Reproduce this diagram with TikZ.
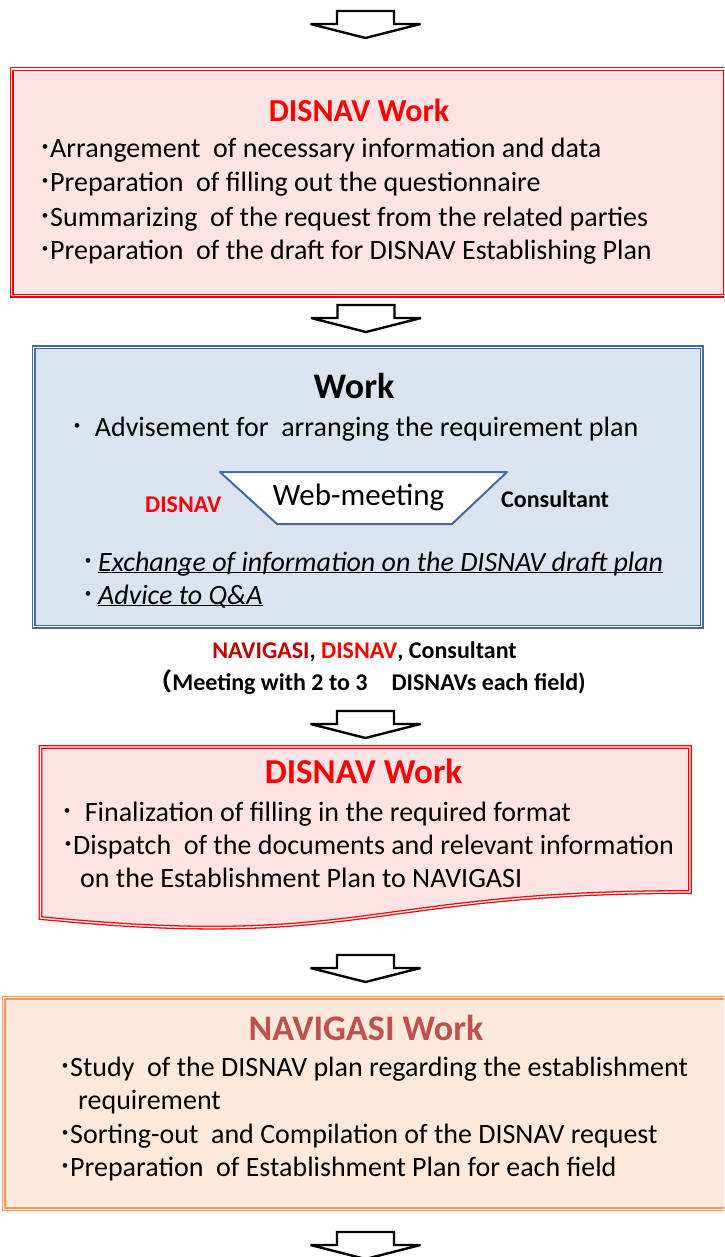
\documentclass[tikz,border=0pt]{standalone}
\usepackage{fontspec}
\setmainfont{Carlito}
\newfontfamily\jpfont{Noto Sans CJK JP}
\usetikzlibrary{positioning}

\definecolor{pinkfill}{RGB}{252,228,228}
\definecolor{bluefill}{RGB}{219,227,241}
\definecolor{blueline}{RGB}{65,108,155}
\definecolor{orangefill}{RGB}{253,233,219}
\definecolor{orangeline}{RGB}{246,150,80}
\definecolor{navired}{RGB}{192,0,0}
\definecolor{navititle}{RGB}{192,80,77}

\newcommand{\hdot}{\makebox[9pt][c]{\jpfont ･}}

\tikzset{
  dbl/.style={double distance=1.3pt, line width=1.3pt},
  redbox/.style={dbl, draw=red, double=white, fill=pinkfill},
  bluebox/.style={dbl, draw=blueline, double=white, fill=bluefill},
  orangebox/.style={dbl, draw=orangeline, double=white, fill=orangefill},
  downarrow/.pic={
    \draw[line width=2.4pt, miter limit=5, fill=white]
      (-28.5,0) -- (28.5,0) -- (28.5,13) -- (55,13) -- (0,27)
      -- (-55,13) -- (-28.5,13) -- cycle;
  }
}

\begin{document}
\begin{tikzpicture}[x=1pt, y=-1pt,
    item/.style={font=\fontsize{28}{33}\selectfont, anchor=base west, inner sep=0pt},
    ititem/.style={item, font=\fontsize{28}{33}\selectfont\itshape},
    title/.style={font=\fontsize{#1}{#1}\selectfont\bfseries, anchor=base, inner sep=0pt},
    side/.style={font=\fontsize{24}{24}\selectfont\bfseries, anchor=base west, inner sep=0pt},
    caption/.style={font=\fontsize{24}{24}\selectfont\bfseries, anchor=base, inner sep=0pt}
  ]
  \clip (0,0) rectangle (724,1257);

  % block arrows
  \pic at (365.5,11) {downarrow};
  \pic at (366,305) {downarrow};
  \pic at (365.5,711) {downarrow};
  \pic at (365.5,955) {downarrow};
  \pic at (365.5,1232) {downarrow};

  % first DISNAV work
  \node[redbox, anchor=north west, minimum width=713pt, minimum height=226.5pt] (disnavA) at (11,68.5) {};
  \node[title=32, red] (disnavAtitle) at (359,122) {DISNAV Work};
  \node[item] (a1) at (41,158) {\hdot Arrangement\ \ of necessary information and data};
  \node[item] (a2) at (41,192) {\hdot Preparation\ \ of filling out the questionnaire};
  \node[item] (a3) at (41,226) {\hdot Summarizing\ \ of the request from the related parties};
  \node[item] (a4) at (41,259) {\hdot Preparation\ \ of the draft for DISNAV Establishing Plan};

  % work with the consultant
  \node[bluebox, anchor=north west, minimum width=668pt, minimum height=279.5pt] (work) at (33,346.5) {};
  \node[title=36] (worktitle) at (354,398) {Work};
  \node[item] (w1) at (73,436) {\hdot\ \ Advisement for\ \ arranging the requirement plan};
  \draw[blueline, line width=2pt, line join=round, fill=white]
    (220,472) -- (507,472) -- (452,524) -- (277,524) -- cycle;
  \node[font=\fontsize{31}{31}\selectfont, anchor=base, inner sep=0pt] (web) at (358.5,505) {Web-meeting};
  \node[side, red] (sideA) at (145,512) {DISNAV};
  \node[side] (sideB) at (501,507) {Consultant};
  \node[ititem] (w2) at (84,571) {\hdot\hspace{5pt}\underline{\smash{Exchange of information on the DISNAV draft plan}}};
  \node[ititem] (w3) at (84,604) {\hdot\hspace{5pt}\underline{\smash{Advice to Q\&A}}};

  % who attends
  \node[caption] (who) at (364.5,658) {\textcolor{navired}{NAVIGASI}, \textcolor{red}{DISNAV}, Consultant};
  \node[caption] (whonote) at (367,690) {{\jpfont （}Meeting with 2 to 3{\jpfont 　}DISNAVs each field)};

  % second DISNAV work (document shape)
  \draw[redbox] (40.5,747) -- (690,747) -- (690,892)
    .. controls (365,892) and (365,950) .. (40.5,918) -- cycle;
  \node[title=35, red] (disnavBtitle) at (363.5,783) {DISNAV Work};
  \node[item] (b1) at (63,821) {\hdot\ \ Finalization of filling in the required format};
  \node[item] (b2) at (64,854) {\hdot Dispatch\ \ of the documents and relevant information};
  \node[item] (b3) at (80,887) {on the Establishment Plan to NAVIGASI};

  % NAVIGASI work
  \node[orangebox, anchor=north west, minimum width=724pt, minimum height=211.5pt] (navi) at (3,997) {};
  \node[title=36, navititle] (navititle) at (366,1040) {NAVIGASI Work};
  \node[item] (n1) at (61,1076) {\hdot Study\ \ of the DISNAV plan regarding the establishment};
  \node[item] (n2) at (78,1109) {requirement};
  \node[item] (n3) at (61,1143) {\hdot Sorting-out\ \ and Compilation of the DISNAV request};
  \node[item] (n4) at (61,1176) {\hdot Preparation\ \ of Establishment Plan for each field};
\end{tikzpicture}
\end{document}
